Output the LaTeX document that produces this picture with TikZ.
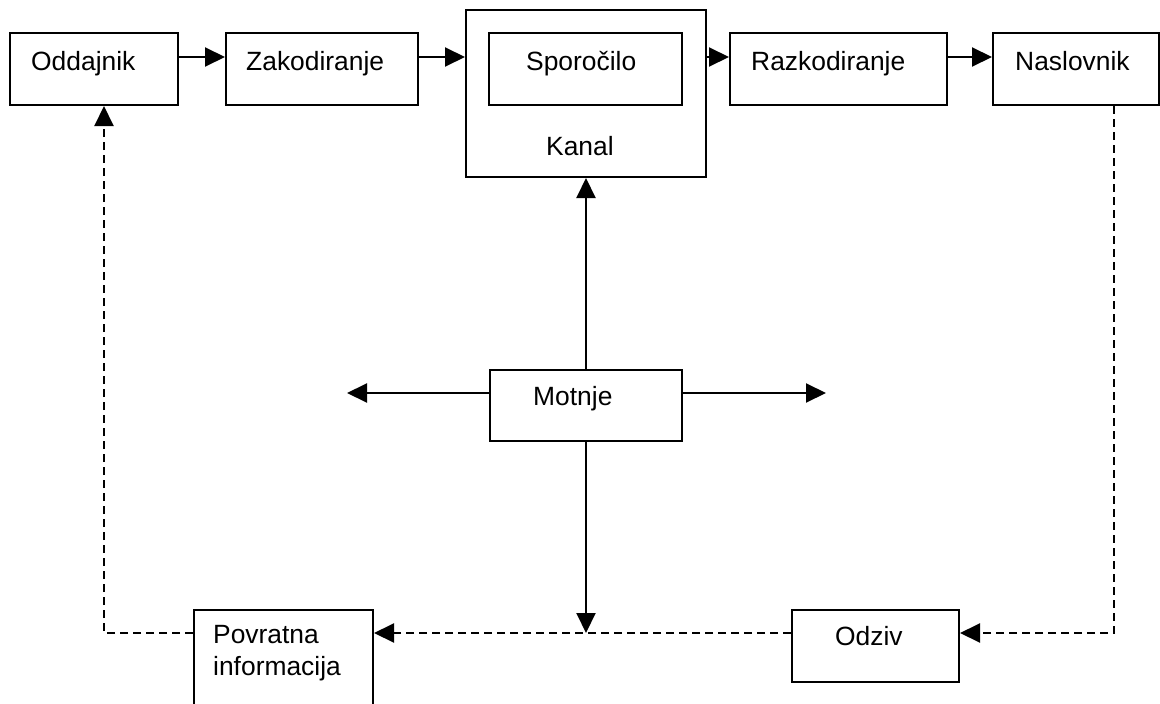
\documentclass[tikz,border=0pt]{standalone}
\usepackage{fontspec}
\setmainfont{Liberation Sans}
\usetikzlibrary{arrows.meta}
\tikzset{
  box/.style={draw=black, line width=2pt, rectangle, inner sep=0pt, fill=none},
  lbl/.style={anchor=base west, inner sep=0pt, font=\fontsize{26.4}{32}\selectfont},
  arr/.style={line width=2pt, -{Triangle[length=20pt, width=19pt]}},
  darr/.style={line width=2pt, dash pattern=on 8pt off 5pt, -{Triangle[length=20pt, width=19pt]}},
}
\begin{document}
\begin{tikzpicture}[x=1pt, y=-1pt]
\clip (0,0) rectangle (1160,704);
\fill[white] (0,0) rectangle (1160,704);
% boxes
\node[box, minimum width=168pt, minimum height=72pt] (odd) at (94,69) {};
\node[box, minimum width=192pt, minimum height=72pt] (zak) at (322,69) {};
\node[box, minimum width=240pt, minimum height=167pt] (kan) at (586,93.5) {};
\node[box, minimum width=193pt, minimum height=72pt] (spo) at (585.5,69) {};
\node[box, minimum width=217pt, minimum height=72pt] (raz) at (838.5,69) {};
\node[box, minimum width=166pt, minimum height=72pt] (nas) at (1076,69) {};
\node[box, minimum width=192pt, minimum height=71pt] (mot) at (586,405.5) {};
\node[box, minimum width=179pt, minimum height=110pt] (pov) at (283.5,665) {};
\node[box, minimum width=167pt, minimum height=72pt] (odz) at (875.5,646) {};
% labels
\node[lbl] (todd) at (31,70) {Oddajnik};
\node[lbl] (tzak) at (246,70) {Zakodiranje};
\node[lbl] (tspo) at (526,70) {Sporočilo};
\node[lbl] (tkan) at (546,155) {Kanal};
\node[lbl] (traz) at (751,70) {Razkodiranje};
\node[lbl] (tnas) at (1015,70) {Naslovnik};
\node[lbl] (tmot) at (533,405) {Motnje};
\node[lbl] (tpov1) at (213,643) {Povratna};
\node[lbl] (tpov2) at (213,675) {informacija};
\node[lbl] (todz) at (835,645) {Odziv};
% coordinates
\coordinate (ml) at (347,393);
\coordinate (mr) at (826,393);
\coordinate (j) at (586,633);
\coordinate (rc) at (1114,633);
\coordinate (lc) at (104,633);
% top arrows
\draw[arr] (odd.east |- 0,57) -- (zak.west |- 0,57);
\draw[arr] (zak.east |- 0,57) -- (kan.west |- 0,57);
\draw[arr] (kan.east |- 0,57) -- (raz.west |- 0,57);
\draw[arr] (raz.east |- 0,57) -- (nas.west |- 0,57);
% Motnje arrows
\draw[arr] (mot.north) -- (kan.south);
\draw[arr] (mot.south) -- (j);
\draw[arr] (mot.west |- ml) -- (ml);
\draw[arr] (mot.east |- mr) -- (mr);
% feedback loop
\draw[darr] (rc |- nas.south) -- (rc) -- (odz.east |- rc);
\draw[darr] (odz.west |- rc) -- (pov.east |- rc);
\draw[darr] (pov.west |- lc) -- (lc) -- (lc |- odd.south);
\end{tikzpicture}
\end{document}
